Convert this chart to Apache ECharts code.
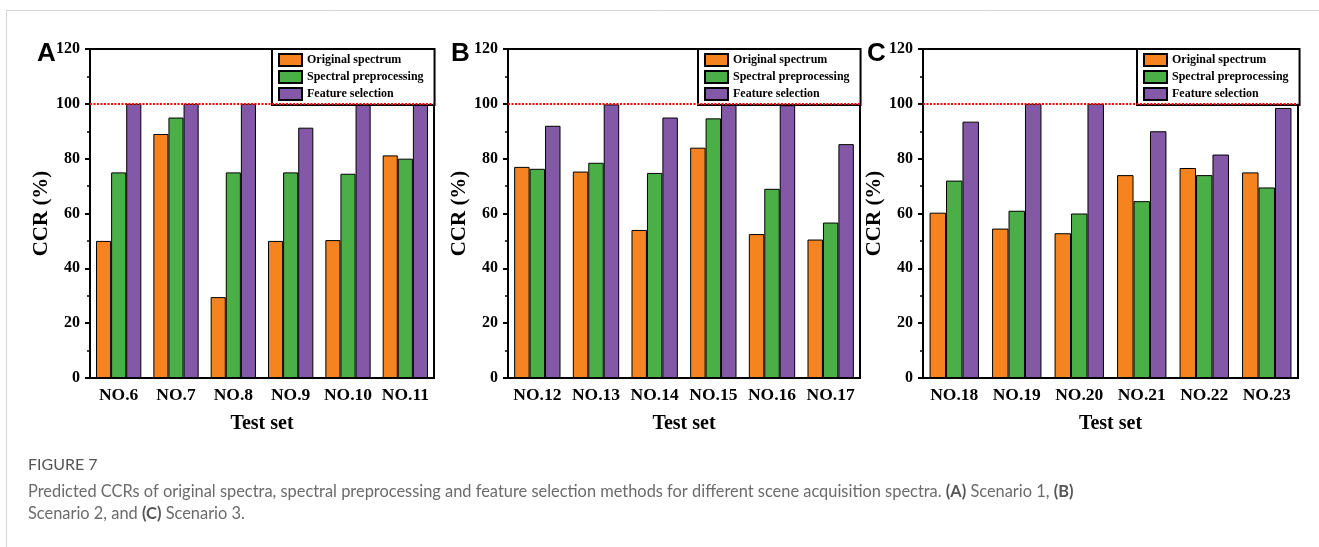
<!DOCTYPE html>
<html>
<head>
<meta charset="utf-8">
<script src="https://cdn.jsdelivr.net/npm/echarts@6/dist/echarts.min.js"></script>
<style>
  html, body { margin: 0; padding: 0; background: #fff; }
  #chart { width: 1319px; height: 547px; }
</style>
</head>
<body>
<div id="chart"></div>
<script>
const seriesNames = ['Original spectrum', 'Spectral preprocessing', 'Feature selection'];
const colors = ['#F5831F', '#4BAF48', '#8359A7'];
const yTicks = [0, 20, 40, 60, 80, 100, 120];

const categoriesA = ['NO.6', 'NO.7', 'NO.8', 'NO.9', 'NO.10', 'NO.11'];
const originalA = [50, 89, 29.5, 50, 50.3, 81.2];
const preprocA = [75, 95, 75, 75, 74.5, 80];
const featureA = [100, 100, 100, 91.3, 99.7, 100];

const categoriesB = ['NO.12', 'NO.13', 'NO.14', 'NO.15', 'NO.16', 'NO.17'];
const originalB = [77, 75.3, 54, 84, 52.5, 50.5];
const preprocB = [76.3, 78.5, 74.8, 94.7, 69, 56.7];
const featureB = [92, 99.8, 95, 100, 99.5, 85.3];

const categoriesC = ['NO.18', 'NO.19', 'NO.20', 'NO.21', 'NO.22', 'NO.23'];
const originalC = [60.3, 54.5, 52.8, 74, 76.6, 75];
const preprocC = [72, 61, 60, 64.5, 74, 69.5];
const featureC = [93.5, 100, 100, 90, 81.5, 98.5];

const serif = 'Liberation Serif';

// grid boxes and legend spots, one per panel
const panels = [
  { letter: 'A', cats: categoriesA, data: [originalA, preprocA, featureA], left: 90, right: 885, nameGap: 36, legendLeft: 272, letterX: 37 },
  { letter: 'B', cats: categoriesB, data: [originalB, preprocB, featureB], left: 508, right: 459, nameGap: 34, legendLeft: 698, letterX: 451 },
  { letter: 'C', cats: categoriesC, data: [originalC, preprocC, featureC], left: 923, right: 21, nameGap: 27, legendLeft: 1137, letterX: 867 }
];

const grid = [], xAxis = [], yAxis = [], series = [], legend = [], graphic = [];

panels.forEach((p, i) => {
  grid.push({
    left: p.left, right: p.right, top: 49, bottom: 169,
    show: true, borderColor: '#000', borderWidth: 2, containLabel: false
  });
  xAxis.push({
    type: 'category', gridIndex: i, data: p.cats, position: 'bottom',
    name: 'Test set', nameLocation: 'middle', nameGap: 36,
    nameTextStyle: { fontFamily: serif, fontWeight: 'bold', fontSize: 20, color: '#000' },
    axisLine: { lineStyle: { color: '#000', width: 2 } },
    axisTick: { alignWithLabel: true, interval: 0, length: 5, lineStyle: { color: '#000', width: 2 } },
    axisLabel: { interval: 0, hideOverlap: false, fontFamily: serif, fontWeight: 'bold', fontSize: 17.5, color: '#000', margin: 8 },
    splitLine: { show: false }
  });
  // short ticks between categories
  xAxis.push({
    type: 'category', gridIndex: i, data: p.cats, position: 'bottom',
    axisLine: { show: false },
    axisTick: { interval: 0, length: 3, lineStyle: { color: '#000', width: 1.5 } },
    axisLabel: { show: false },
    splitLine: { show: false }
  });
  yAxis.push({
    type: 'value', gridIndex: i, min: yTicks[0], max: yTicks[yTicks.length - 1], interval: 20,
    name: 'CCR (%)', nameLocation: 'middle', nameGap: p.nameGap,
    nameTextStyle: { fontFamily: serif, fontWeight: 'bold', fontSize: 21, color: '#000' },
    axisLine: { show: true, lineStyle: { color: '#000', width: 2 } },
    axisTick: { show: true, length: 5, lineStyle: { color: '#000', width: 2 } },
    minorTick: { show: true, splitNumber: 2, length: 3, lineStyle: { color: '#000', width: 1.5 } },
    axisLabel: { fontFamily: serif, fontWeight: 'bold', fontSize: 16, color: '#000', margin: 10 },
    splitLine: { show: false }
  });
  seriesNames.forEach((name, k) => {
    const s = {
      name: name, type: 'bar', xAxisIndex: i * 2, yAxisIndex: i,
      data: p.data[k], barGap: '0%', barCategoryGap: '21%',
      itemStyle: { color: colors[k], borderColor: '#000', borderWidth: 1 },
      emphasis: { disabled: true }
    };
    if (k === 2) {
      s.markLine = {
        silent: true, symbol: 'none', label: { show: false },
        lineStyle: { color: '#FF0000', type: [2, 1.5], width: 2 },
        data: [{ yAxis: 100 }]
      };
    }
    series.push(s);
  });
  legend.push({
    left: p.legendLeft, top: 49, orient: 'vertical', selectedMode: false, icon: 'rect',
    data: seriesNames, itemWidth: 23, itemHeight: 12, itemGap: 3,
    padding: [4, 11, 4, 6], borderColor: '#000', borderWidth: 2, backgroundColor: '#fff',
    textStyle: { fontFamily: serif, fontWeight: 'bold', fontSize: 12, color: '#000' }
  });
  graphic.push({
    type: 'text', left: p.letterX, top: 41,
    style: { text: p.letter, font: 'bold 26px "Liberation Sans"', fill: '#000' }
  });
});

// page frame and caption
graphic.push(
  { type: 'line', shape: { x1: 6, y1: 10.5, x2: 1319, y2: 10.5 }, style: { stroke: '#d4d4d4', lineWidth: 1 } },
  { type: 'line', shape: { x1: 6.5, y1: 10, x2: 6.5, y2: 547 }, style: { stroke: '#d4d4d4', lineWidth: 1 } },
  { type: 'text', left: 28, top: 457, style: { text: 'FIGURE 7', font: '16px Lato', fill: '#555' } },
  {
    type: 'text', left: 28, top: 481,
    style: {
      text: 'Predicted CCRs of original spectra, spectral preprocessing and feature selection methods for different scene acquisition spectra. {b|(A)} Scenario 1, {b|(B)}\nScenario 2, and {b|(C)} Scenario 3.',
      font: '16.4px Lato', fill: '#6b6b6b', lineHeight: 22,
      rich: { b: { fontFamily: 'Lato', fontSize: 16.4, fontWeight: 'bold', fill: '#555', lineHeight: 22 } }
    }
  }
);

const myChart = echarts.init(document.getElementById('chart'));
myChart.setOption({
  animation: false,
  backgroundColor: '#fff',
  grid, xAxis, yAxis, series, legend, graphic
});
</script>
</body>
</html>
